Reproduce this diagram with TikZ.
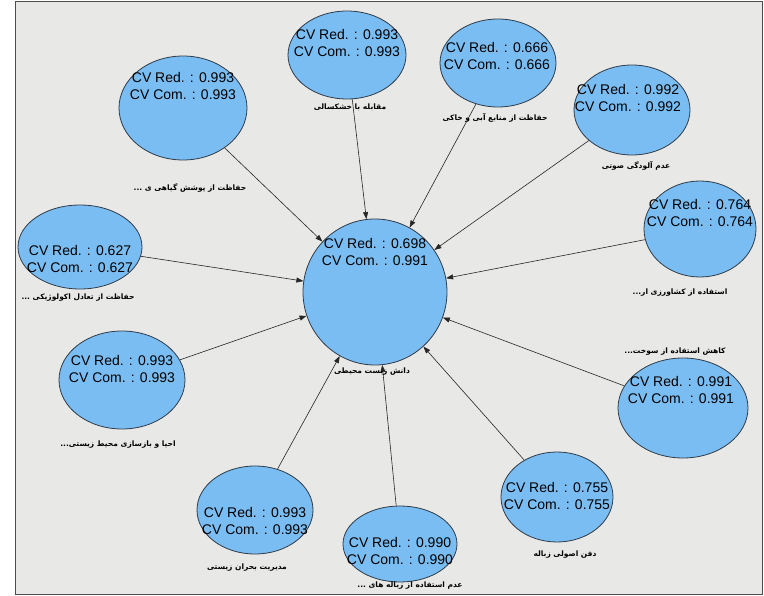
\documentclass[tikz,border=0pt]{standalone}
\usepackage{fontspec}
\setmainfont{Liberation Sans}
\newfontfamily\fafont[Script=Arabic]{DejaVu Sans}
\TeXXeTstate=1
\usetikzlibrary{shapes.geometric,arrows.meta}
\definecolor{bg}{HTML}{E8E8E6}
\definecolor{lv}{HTML}{7ABDF3}
\definecolor{edge}{HTML}{2F3B48}
\tikzset{
  lvar/.style={ellipse, draw=edge, line width=0.8pt, fill=lv, inner sep=0pt},
  cv/.style={font=\fontsize{14}{17}\selectfont, align=center, inner sep=0pt},
  falbl/.style={font=\fafont\bfseries\fontsize{7.5}{9}\selectfont, inner sep=0pt},
  arr/.style={draw=black!85, line width=0.6pt, -{Triangle[length=7pt,width=5pt]}}
}
\begin{document}
\begin{tikzpicture}[x=1pt,y=-1pt]
\useasboundingbox (0,0) rectangle (764,596);
\fill[white] (0,0) rectangle (764,596);
\fill[bg] (15,2) rectangle (762,594);
\draw[black!70, line width=1pt] (15,2) rectangle (762,594);

% ellipses
\node[lvar, minimum width=144pt, minimum height=146pt] (c) at (375,292) {};
\node[lvar, minimum width=128pt, minimum height=104pt] (e1) at (183,108) {};
\node[lvar, minimum width=118pt, minimum height=88pt] (e2) at (347,55) {};
\node[lvar, minimum width=116pt, minimum height=88pt] (e3) at (498,63) {};
\node[lvar, minimum width=116pt, minimum height=90pt] (e4) at (632,110) {};
\node[lvar, minimum width=112pt, minimum height=96pt] (e5) at (700,229) {};
\node[lvar, minimum width=124pt, minimum height=84pt] (e6) at (80,247) {};
\node[lvar, minimum width=126pt, minimum height=98pt] (e7) at (122,380) {};
\node[lvar, minimum width=116pt, minimum height=88pt] (e8) at (255,510) {};
\node[lvar, minimum width=114pt, minimum height=76pt] (e9) at (400,544) {};
\node[lvar, minimum width=112pt, minimum height=90pt] (e10) at (557,497) {};
\node[lvar, minimum width=130pt, minimum height=100pt] (e11) at (683,408) {};

% connectors
\foreach \n in {e1,e2,e3,e4,e5,e6,e7,e8,e9,e10,e11} \draw[arr] (\n) -- (c);

% CV texts
\node[cv] (tc) at (375,252) {CV Red. : 0.698\\CV Com. : 0.991};
\node[cv] (t1) at (183,86) {CV Red. : 0.993\\CV Com. : 0.993};
\node[cv] (t2) at (347,43) {CV Red. : 0.993\\CV Com. : 0.993};
\node[cv] (t3) at (497,56) {CV Red. : 0.666\\CV Com. : 0.666};
\node[cv] (t4) at (628,98) {CV Red. : 0.992\\CV Com. : 0.992};
\node[cv] (t5) at (700,213) {CV Red. : 0.764\\CV Com. : 0.764};
\node[cv] (t6) at (80,259) {CV Red. : 0.627\\CV Com. : 0.627};
\node[cv] (t7) at (122,369) {CV Red. : 0.993\\CV Com. : 0.993};
\node[cv] (t8) at (255,521) {CV Red. : 0.993\\CV Com. : 0.993};
\node[cv] (t9) at (400,551) {CV Red. : 0.990\\CV Com. : 0.990};
\node[cv] (t10) at (557,496) {CV Red. : 0.755\\CV Com. : 0.755};
\node[cv] (t11) at (681,390) {CV Red. : 0.991\\CV Com. : 0.991};

% Persian labels
\node[falbl] (l0) at (372,372) {\beginR دانش زیست محیطی\endR};
\node[falbl] (l1) at (190,188) {\beginR حفاظت از پوشش گیاهی ی ...\endR};
\node[falbl] (l2) at (350,107) {\beginR مقابله با خشکسالی\endR};
\node[falbl] (l3) at (495,118) {\beginR حفاظت از منابع آبی و خاکی\endR};
\node[falbl] (l4) at (636,166) {\beginR عدم آلودگی صوتی\endR};
\node[falbl] (l5) at (680,293) {\beginR استفاده از کشاورزی ار...\endR};
\node[falbl] (l6) at (78,298) {\beginR حفاظت از تعادل اکولوژیکی ...\endR};
\node[falbl] (l7) at (118,445) {\beginR احیا و بازسازی محیط زیستی...\endR};
\node[falbl] (l8) at (247,568) {\beginR مدیریت بحران زیستی\endR};
\node[falbl] (l9) at (410,586) {\beginR عدم استفاده از زباله های ...\endR};
\node[falbl] (l10) at (565,555) {\beginR دفن اصولی زباله\endR};
\node[falbl] (l11) at (675,352) {\beginR کاهش استفاده از سوخت...\endR};
\end{tikzpicture}
\end{document}
